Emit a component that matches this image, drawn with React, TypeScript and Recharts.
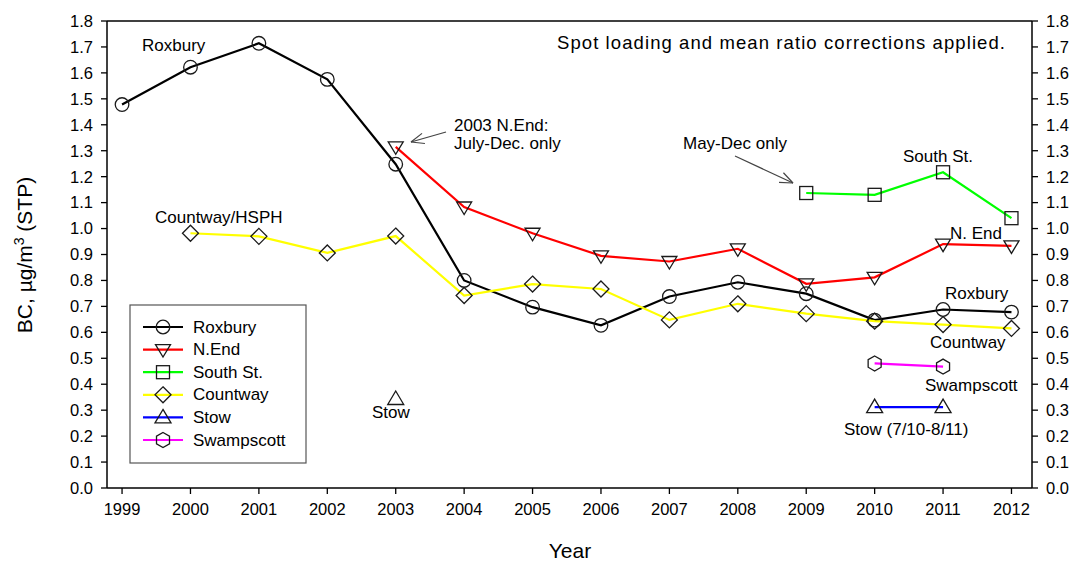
import React from 'react';
import { LineChart, Line, XAxis, YAxis, ReferenceLine } from 'recharts';

const years = [1999, 2000, 2001, 2002, 2003, 2004, 2005, 2006, 2007, 2008, 2009, 2010, 2011, 2012];
const roxbury = [1.478, 1.622, 1.714, 1.575, 1.248, 0.8, 0.697, 0.627, 0.738, 0.793, 0.749, 0.647, 0.688, 0.678];
const nEnd = [null, null, null, null, 1.315, 1.083, 0.982, 0.895, 0.873, 0.922, 0.787, 0.812, 0.94, 0.933];
const southSt = [null, null, null, null, null, null, null, null, null, null, 1.137, 1.13, 1.217, 1.04];
const countway = [null, 0.982, 0.97, 0.906, 0.971, 0.742, 0.786, 0.767, 0.648, 0.71, 0.672, 0.643, 0.63, 0.615];
const stow = [null, null, null, null, 0.343, null, null, null, null, null, null, 0.312, 0.312, null];
const swampscott = [null, null, null, null, null, null, null, null, null, null, null, 0.48, 0.468, null];
const yTicks = [0, 0.1, 0.2, 0.3, 0.4, 0.5, 0.6, 0.7, 0.8, 0.9, 1.0, 1.1, 1.2, 1.3, 1.4, 1.5, 1.6, 1.7, 1.8];

const data = years.map((y, i) => ({
  year: y,
  roxbury: roxbury[i],
  nEnd: nEnd[i],
  southSt: southSt[i],
  countway: countway[i],
  stow: stow[i],
  swampscott: swampscott[i],
}));

const FONT = 'Arial, "Liberation Sans", sans-serif';
const MK = '#1a1a1a';

type Kind = 'circle' | 'tdown' | 'square' | 'diamond' | 'tup' | 'hex';

function marker(kind: Kind, cx: number, cy: number, key?: any) {
  const common = { fill: 'none', stroke: MK, strokeWidth: 1.3 };
  switch (kind) {
    case 'circle':
      return <circle key={key} cx={cx} cy={cy} r={6.8} {...common} />;
    case 'tdown':
      return <polygon key={key} points={`${cx - 7.5},${cy - 5} ${cx + 7.5},${cy - 5} ${cx},${cy + 7.5}`} {...common} />;
    case 'square':
      return <rect key={key} x={cx - 6.5} y={cy - 6.5} width={13} height={13} {...common} />;
    case 'diamond':
      return <polygon key={key} points={`${cx},${cy - 8} ${cx + 8},${cy} ${cx},${cy + 8} ${cx - 8},${cy}`} {...common} />;
    case 'tup':
      return <polygon key={key} points={`${cx},${cy - 8} ${cx + 8},${cy + 5.5} ${cx - 8},${cy + 5.5}`} {...common} />;
    case 'hex':
      return (
        <polygon
          key={key}
          points={`${cx},${cy - 7.5} ${cx + 6.5},${cy - 3.75} ${cx + 6.5},${cy + 3.75} ${cx},${cy + 7.5} ${cx - 6.5},${cy + 3.75} ${cx - 6.5},${cy - 3.75}`}
          {...common}
        />
      );
  }
  return null;
}

const makeDot = (kind: Kind) => (props: any) => {
  const { cx, cy, value, index } = props;
  if (value == null || cx == null || cy == null || isNaN(cy)) return <g key={`e-${kind}-${index}`} />;
  return marker(kind, cx, cy, `d-${kind}-${index}`);
};

const seriesDefs: { key: string; name: string; color: string; kind: Kind }[] = [
  { key: 'roxbury', name: 'Roxbury', color: '#000000', kind: 'circle' },
  { key: 'nEnd', name: 'N.End', color: '#ff0000', kind: 'tdown' },
  { key: 'southSt', name: 'South St.', color: '#00ff00', kind: 'square' },
  { key: 'countway', name: 'Countway', color: '#ffff00', kind: 'diamond' },
  { key: 'stow', name: 'Stow', color: '#0000ff', kind: 'tup' },
  { key: 'swampscott', name: 'Swampscott', color: '#ff00ff', kind: 'hex' },
];

function Arrow({ x1, y1, x2, y2 }: { x1: number; y1: number; x2: number; y2: number }) {
  const dx = x1 - x2;
  const dy = y1 - y2;
  const len = Math.sqrt(dx * dx + dy * dy);
  const ux = dx / len;
  const uy = dy / len;
  const L = 14;
  const a = (22 * Math.PI) / 180;
  const r1x = ux * Math.cos(a) - uy * Math.sin(a);
  const r1y = ux * Math.sin(a) + uy * Math.cos(a);
  const r2x = ux * Math.cos(-a) - uy * Math.sin(-a);
  const r2y = ux * Math.sin(-a) + uy * Math.cos(-a);
  return (
    <g stroke="#444" strokeWidth={1.2} fill="none">
      <line x1={x1} y1={y1} x2={x2} y2={y2} />
      <line x1={x2} y1={y2} x2={x2 + r1x * L} y2={y2 + r1y * L} />
      <line x1={x2} y1={y2} x2={x2 + r2x * L} y2={y2 + r2y * L} />
    </g>
  );
}

const annos: { t: string; x: number; y: number; w?: number; fs?: number }[] = [
  { t: 'Roxbury', x: 142, y: 45 },
  { t: 'Spot loading and mean ratio corrections applied.', x: 557, y: 42, w: 448, fs: 18.5 },
  { t: '2003 N.End:', x: 454, y: 125 },
  { t: 'July-Dec. only', x: 454, y: 143 },
  { t: 'Countway/HSPH', x: 155, y: 217 },
  { t: 'Stow', x: 372, y: 412 },
  { t: 'May-Dec only', x: 683, y: 143 },
  { t: 'South St.', x: 903, y: 156 },
  { t: 'N. End', x: 950, y: 233 },
  { t: 'Roxbury', x: 945, y: 293 },
  { t: 'Countway', x: 930, y: 342 },
  { t: 'Swampscott', x: 925, y: 385 },
  { t: 'Stow (7/10-8/11)', x: 844, y: 429 },
];

export default function App() {
  const tickStyle = { fill: '#000', fontSize: 16.5, fontFamily: FONT };
  const axisLine = { stroke: '#000', strokeWidth: 1.5 };
  const tickLine = { stroke: '#000', strokeWidth: 1.3 };
  return (
    <div style={{ position: 'absolute', left: 0, top: 0, width: 1073, height: 561, background: '#fff' }}>
      <LineChart width={1073} height={561} data={data} margin={{ top: 21, right: 0, bottom: 43, left: 47 }}>
        <XAxis
          dataKey="year"
          type="number"
          domain={[1998.78, 2012.3]}
          ticks={years}
          allowDataOverflow
          tick={tickStyle}
          axisLine={axisLine}
          tickLine={tickLine}
          tickSize={6}
          tickMargin={9}
          height={30}
          interval={0}
        />
        <YAxis
          yAxisId="left"
          domain={[0, 1.8]}
          ticks={yTicks}
          allowDataOverflow
          tickFormatter={(v: number) => v.toFixed(1)}
          tick={tickStyle}
          axisLine={axisLine}
          tickLine={tickLine}
          tickSize={6}
          tickMargin={8}
          width={60}
          interval={0}
        />
        <YAxis
          yAxisId="right"
          orientation="right"
          domain={[0, 1.8]}
          ticks={yTicks}
          allowDataOverflow
          tickFormatter={(v: number) => v.toFixed(1)}
          tick={tickStyle}
          axisLine={axisLine}
          tickLine={tickLine}
          tickSize={6}
          tickMargin={8}
          width={41}
          interval={0}
        />
        <ReferenceLine yAxisId="left" y={1.8} stroke="#000" strokeWidth={1.5} />
        {seriesDefs.map((s) => (
          <Line
            key={s.key}
            yAxisId="left"
            dataKey={s.key}
            name={s.name}
            stroke={s.color}
            strokeWidth={2.2}
            dot={makeDot(s.kind)}
            activeDot={false}
            connectNulls={false}
            isAnimationActive={false}
          />
        ))}
      </LineChart>
      <svg
        width={1073}
        height={561}
        style={{ position: 'absolute', left: 0, top: 0, pointerEvents: 'none' }}
        fontFamily={FONT}
      >
        {annos.map((a, i) => (
          <text
            key={i}
            x={a.x}
            y={a.y}
            fontSize={a.fs ?? 17}
            fill="#000"
            dominantBaseline="central"
            {...(a.w ? { textLength: a.w, lengthAdjust: 'spacing' } : {})}
          >
            {a.t}
          </text>
        ))}
        <Arrow x1={446} y1={132} x2={411} y2={142} />
        <Arrow x1={735} y1={156} x2={793} y2={183} />
        <text
          x={0}
          y={0}
          transform="translate(32,255) rotate(-90)"
          textAnchor="middle"
          fontSize={21}
          fill="#000"
        >
          BC, µg/m
          <tspan dy={-8} fontSize={14}>3</tspan>
          <tspan dy={8}> (STP)</tspan>
        </text>
        <text x={570} y={558} textAnchor="middle" fontSize={21} fill="#000">
          Year
        </text>
        <rect x={130} y={305} width={176} height={158} fill="#fff" stroke="#555" strokeWidth={1.2} />
        {seriesDefs.map((s, i) => {
          const y = 327 + i * 22.6;
          return (
            <g key={s.key}>
              <line x1={143} y1={y} x2={183} y2={y} stroke={s.color} strokeWidth={2.2} />
              {marker(s.kind, 163, y)}
              <text x={193} y={y} fontSize={17} fill="#000" dominantBaseline="central">
                {s.name}
              </text>
            </g>
          );
        })}
      </svg>
    </div>
  );
}
